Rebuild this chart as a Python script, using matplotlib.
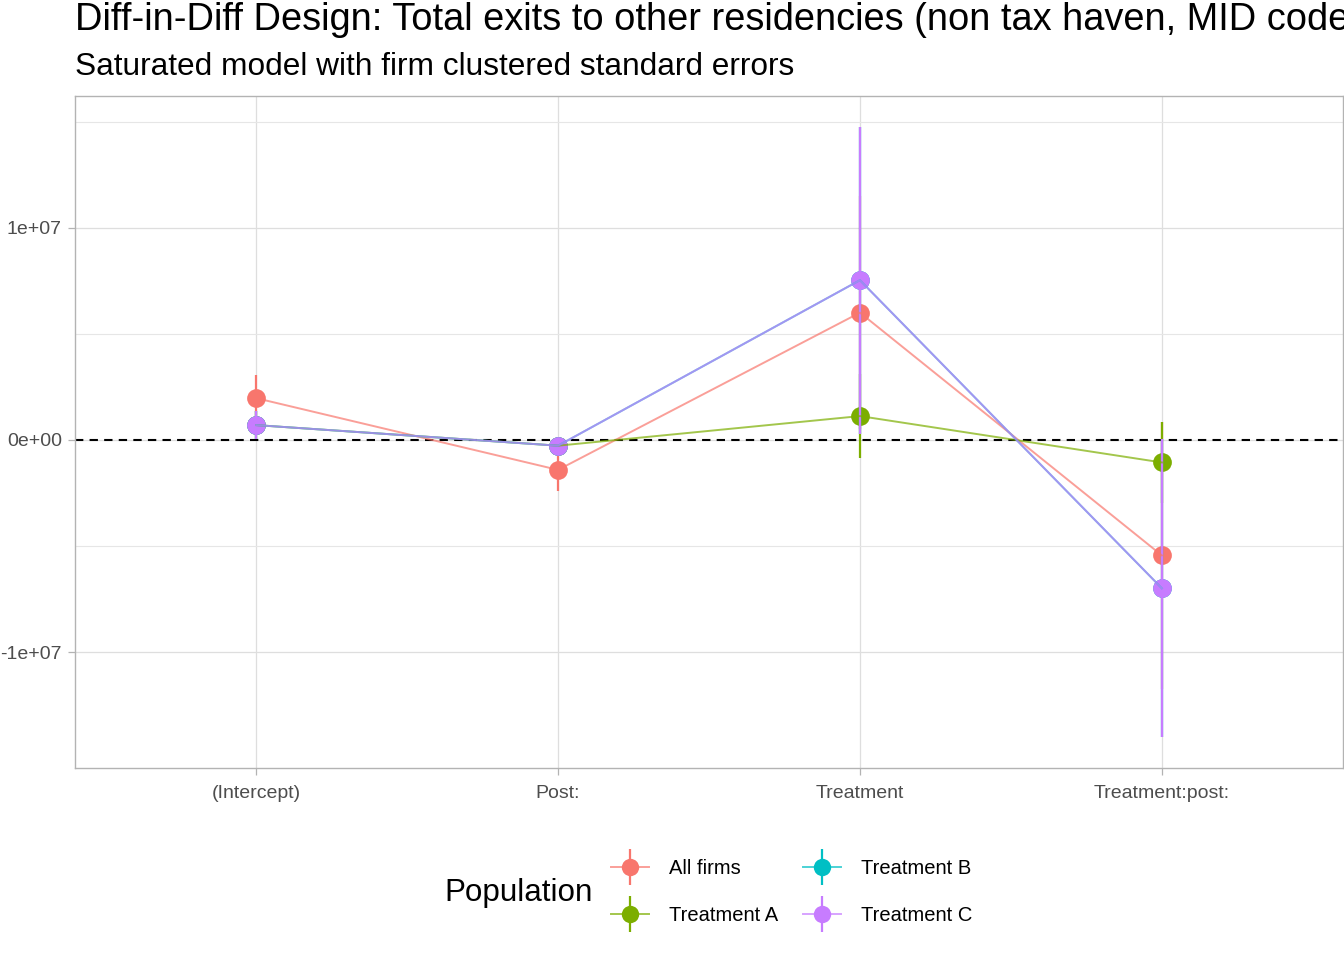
import matplotlib
matplotlib.use("Agg")
import matplotlib.pyplot as plt
from matplotlib.lines import Line2D
from matplotlib.legend_handler import HandlerTuple
import numpy as np

plt.rcParams['font.family'] = ['Liberation Sans', 'DejaVu Sans']

# ---- data ----
terms = ["(Intercept)", "Post:", "Treatment", "Treatment:post:"]
populations = ["All firms", "Treatment A", "Treatment B", "Treatment C"]
colors = ["#F8766D", "#7CAE00", "#00BFC4", "#C77CFF"]

est_all = [1.97e6, -1.41e6, 6.00e6, -5.44e6]
se_all = [1.08e6, 1.00e6, 5.50e6, 6.30e6]
est_a = [0.70e6, -0.27e6, 1.125e6, -1.06e6]
se_a = [0.66e6, 0.30e6, 1.97e6, 1.91e6]
est_b = [0.70e6, -0.27e6, 7.53e6, -6.99e6]
se_b = [0.66e6, 0.30e6, 7.24e6, 7.03e6]
est_c = [0.70e6, -0.27e6, 7.53e6, -6.99e6]
se_c = [0.66e6, 0.30e6, 7.24e6, 7.03e6]

estimates = [est_all, est_a, est_b, est_c]
halfwidths = [se_all, se_a, se_b, se_c]

title = "Diff-in-Diff Design: Total exits to other residencies (non tax haven, MID code)"
subtitle = "Saturated model with firm clustered standard errors"

# ---- figure ----
fig = plt.figure(figsize=(13.44, 9.6), dpi=100)
ax = fig.add_axes([75/1344, 1-768/960, 1268/1344, 672/960])

x = np.arange(1, len(terms) + 1)

ax.axhline(0, color="black", lw=1.5, dashes=(4, 3), zorder=2)

for i, (est, hw, c) in enumerate(zip(estimates, halfwidths, colors)):
    est = np.array(est); hw = np.array(hw)
    ax.vlines(x, est - hw, est + hw, color=c, lw=1.6, zorder=3 + i * 0.01)
    ax.plot(x, est, 'o', color=c, ms=13.5, mew=0, zorder=3 + i * 0.01)
for i, (est, c) in enumerate(zip(estimates, colors)):
    ax.plot(x, est, '-', color=c, lw=1.4, alpha=0.7, zorder=4 + i * 0.01)

# axes limits with ggplot-like expansion
lo = min((np.array(e) - np.array(h)).min() for e, h in zip(estimates, halfwidths))
hi = max((np.array(e) + np.array(h)).max() for e, h in zip(estimates, halfwidths))
rng = hi - lo
ax.set_ylim(lo - 0.05 * rng, hi + 0.05 * rng)
ax.set_xlim(0.4, len(terms) + 0.6)

ax.set_xticks(x)
ax.set_xticklabels(terms)
ax.set_yticks([-1e7, 0, 1e7])
ax.set_yticklabels(["-1e+07", "0e+00", "1e+07"])
ax.set_yticks([-5e6, 5e6, 1.5e7], minor=True)

ax.grid(True, which="major", color="#DEDEDE", lw=0.9, zorder=0)
ax.grid(True, which="minor", axis="y", color="#E6E6E6", lw=0.8, zorder=0)
ax.set_axisbelow(True)
for s in ax.spines.values():
    s.set_color("#B3B3B3")
    s.set_linewidth(1.0)
ax.tick_params(axis="both", which="major", colors="#B3B3B3", labelcolor="#4D4D4D",
               labelsize=14, length=5, width=0.9)
ax.tick_params(axis="y", which="major", pad=4.5)
ax.tick_params(axis="y", which="minor", length=0)
ax.tick_params(axis="x", pad=7)

fig.text(75/1344, 1-30/960, title, fontsize=27.4, ha="left", va="baseline", color="black")
fig.text(75/1344, 1-75/960, subtitle, fontsize=22.8, ha="left", va="baseline", color="black")

# legend
handles = []
for c in colors:
    hline = Line2D([], [], color=c, lw=1.4, alpha=0.7)
    vline = Line2D([], [], color=c, marker='|', ms=26, mew=1.6, linestyle='none')
    pt = Line2D([], [], color=c, marker='o', ms=12.5, mew=0, linestyle='none')
    handles.append((hline, vline, pt))

leg = fig.legend(handles, populations, ncol=2, loc="center left",
                 bbox_to_anchor=(601/1344, 1-892/960), frameon=False,
                 handler_map={tuple: HandlerTuple(ndivide=1)},
                 fontsize=14.5, handlelength=1.9, handletextpad=1.0,
                 columnspacing=1.2, labelspacing=1.35, borderpad=0)
fig.text(444/1344, 1-893/960, "Population", fontsize=22.6, ha="left", va="center")

fig.savefig("out.png", dpi=100)
